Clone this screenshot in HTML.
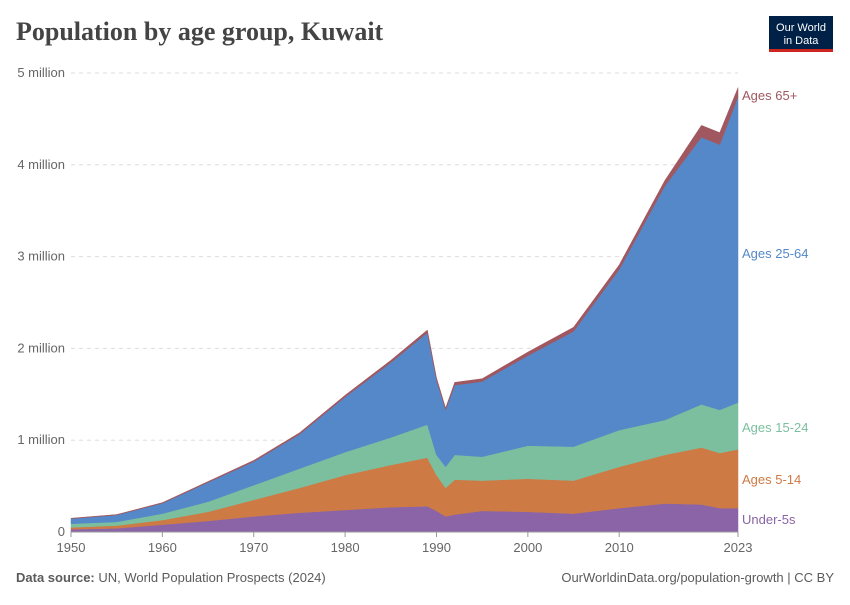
<!DOCTYPE html>
<html><head><meta charset="utf-8"><style>
body{margin:0;background:#fff;font-family:"Liberation Sans",sans-serif;}
</style></head><body>
<svg id="chart" width="850" height="600" xmlns="http://www.w3.org/2000/svg" font-family="Liberation Sans, sans-serif">
<text x="16" y="40" style="font-family:'Liberation Serif',serif;font-size:26px;font-weight:bold;fill:#444">Population by age group, Kuwait</text>
<g>
<rect x="769" y="16" width="64" height="36" fill="#002147"/>
<rect x="769" y="49" width="64" height="3" fill="#ce261e"/>
<text x="801" y="31" font-size="11" fill="#fff" text-anchor="middle">Our World</text>
<text x="801" y="44" font-size="11" fill="#fff" text-anchor="middle">in Data</text>
</g>
<g id="grid"></g>
<g id="areas"></g>
<g id="axes"></g>
<g id="labels"></g>
<text x="16" y="582" font-size="13" fill="#5b5b5b"><tspan font-weight="bold">Data source:</tspan> UN, World Population Prospects (2024)</text>
<text x="834" y="582" font-size="13" fill="#5b5b5b" text-anchor="end">OurWorldinData.org/population-growth | CC BY</text>
</svg>
<script>
const years=[1950,1955,1960,1965,1970,1975,1980,1985,1989,1990,1991,1992,1995,2000,2005,2010,2015,2019,2021,2023];
const under5=[0.03,0.04,0.08,0.12,0.17,0.21,0.24,0.27,0.28,0.23,0.17,0.19,0.23,0.22,0.20,0.26,0.31,0.30,0.26,0.26];
const age5to14=[0.02,0.03,0.05,0.10,0.18,0.27,0.38,0.46,0.53,0.39,0.31,0.38,0.33,0.36,0.36,0.45,0.53,0.62,0.60,0.64];
const age15to24=[0.04,0.04,0.07,0.11,0.16,0.21,0.25,0.30,0.36,0.22,0.23,0.27,0.26,0.36,0.37,0.40,0.38,0.47,0.47,0.51];
const age25to64=[0.056,0.075,0.113,0.21,0.257,0.373,0.6,0.815,1.0,0.815,0.62,0.76,0.82,0.98,1.255,1.75,2.55,2.91,2.89,3.33];
const age65plus=[0.004,0.005,0.007,0.01,0.013,0.017,0.02,0.025,0.03,0.025,0.02,0.03,0.03,0.04,0.045,0.05,0.06,0.13,0.13,0.1];
const yTicks=[0,1,2,3,4,5];
const yTickLabels=["0","1 million","2 million","3 million","4 million","5 million"];
const xTicks=[1950,1960,1970,1980,1990,2000,2010,2023];
const NS="http://www.w3.org/2000/svg";
const X=y=>71+(y-1950)*(738-71)/73;
const Y=v=>532-v*91.8;
function mk(t,a,p){const e=document.createElementNS(NS,t);for(const k in a)e.setAttribute(k,a[k]);p.appendChild(e);return e;}
const grid=document.getElementById('grid'),areas=document.getElementById('areas'),axes=document.getElementById('axes'),labels=document.getElementById('labels');
yTicks.forEach((v,i)=>{
 if(v>0){const l=mk('line',{x1:71,x2:738,y1:Y(v),y2:Y(v),stroke:'#ddd','stroke-dasharray':'4,4'},grid);
 
 }
 const t=mk('text',{x:65,y:Y(v)+4,'font-size':13,fill:'#666','text-anchor':'end'},axes);t.textContent=yTickLabels[i];
 
 
});
const series=[["under-5s",under5,"#8a64a6","Under-5s"],["ages-5-14",age5to14,"#cd7a45","Ages 5-14"],["ages-15-24",age15to24,"#7bbf9f","Ages 15-24"],["ages-25-64",age25to64,"#5488c8","Ages 25-64"],["ages-65-plus",age65plus,"#a0575f","Ages 65+"]];
let base=years.map(()=>0);
const labelY=[524,484,432,258,100];
series.forEach((s,si)=>{
 const top=base.map((b,i)=>b+s[1][i]);
 let d='M'+years.map((y,i)=>X(y)+','+Y(top[i])).join(' L');
 for(let i=years.length-1;i>=0;i--)d+=' L'+X(years[i])+','+Y(base[i]);
 const p=mk('path',{d:d+'Z',fill:s[2],stroke:s[2],'stroke-width':0.5},areas);
 
 
 const t=mk('text',{x:742,y:labelY[si],'font-size':13,fill:s[2]},labels);t.textContent=s[3];
 
 
 base=top;
});
mk('line',{x1:71,x2:738,y1:532,y2:532,stroke:'#999'},axes);
xTicks.forEach(y=>{
 mk('line',{x1:X(y),x2:X(y),y1:532,y2:537,stroke:'#999'},axes);
 const t=mk('text',{x:X(y),y:552,'font-size':13,fill:'#666','text-anchor':'middle'},axes);t.textContent=y;
 
 
});
</script>
</body></html>
